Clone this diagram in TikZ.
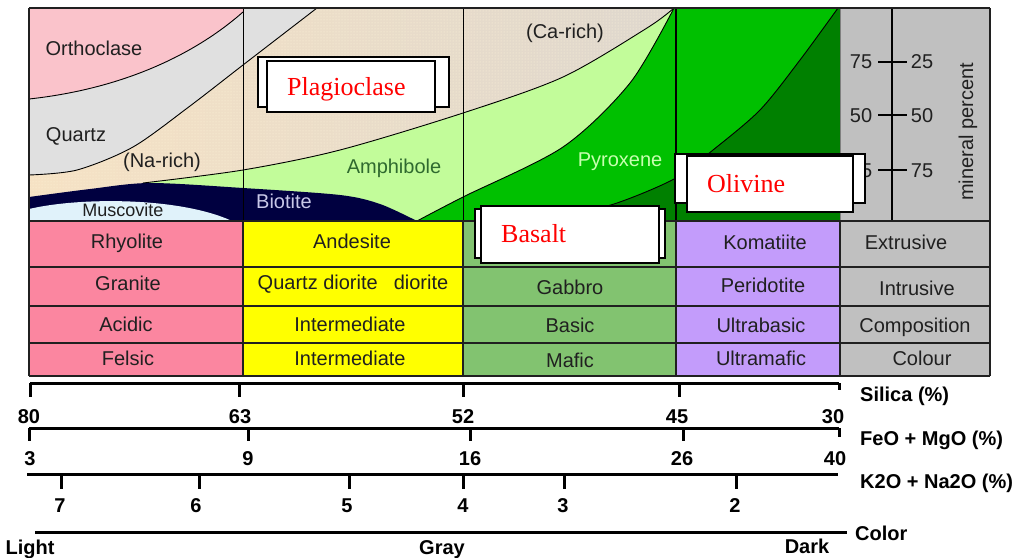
\documentclass[tikz,border=0pt]{standalone}
\usepackage{fontspec}
\setmainfont{Liberation Sans}
\newfontfamily\serifface{Liberation Serif}
\usetikzlibrary{patterns}
\definecolor{orthoc}{HTML}{FAC3CB}
\definecolor{quartzc}{HTML}{E0E0E0}
\definecolor{plagA}{HTML}{F6E2C4}
\definecolor{plagB}{HTML}{D8D4D0}
\definecolor{plagdot}{HTML}{FFF6DA}
\definecolor{amphc}{HTML}{C2FC9A}
\definecolor{pyroxc}{HTML}{00C000}
\definecolor{olivc}{HTML}{008000}
\definecolor{biotc}{HTML}{000040}
\definecolor{muscc}{HTML}{E0F2FA}
\definecolor{greyc}{HTML}{C0C0C0}
\definecolor{rowpink}{HTML}{FB86A0}
\definecolor{rowyel}{HTML}{FFFF00}
\definecolor{rowgrn}{HTML}{82C370}
\definecolor{rowlav}{HTML}{C39CFB}
\definecolor{amphtext}{HTML}{2F6A2F}
\definecolor{pyrtext}{HTML}{C8FFB0}
\definecolor{biottext}{HTML}{C8C8E8}
\definecolor{txt}{HTML}{202020}
\tikzset{
  bound/.style={draw=black, line width=0.9pt},
  colline/.style={draw=black, line width=1pt},
  gridl/.style={draw=txt, line width=1.3pt},
  lbl/.style={inner sep=0pt, text=txt, anchor=base},
  slbl/.style={inner sep=0pt, text=black, anchor=base, font=\fontsize{20}{24}\selectfont\bfseries},
  wlbl/.style={inner sep=0pt, text=black, anchor=base west, font=\fontsize{20}{24}\selectfont\bfseries},
  scl/.style={line width=3pt},
  boxline/.style={draw=black, line width=2pt, fill=white},
  redlbl/.style={inner sep=0pt, text=red, font=\serifface\fontsize{26}{30}\selectfont, anchor=base west},
}
\begin{document}
\begin{tikzpicture}[x=1pt, y=-1pt, font=\fontsize{20}{24}\selectfont]
\useasboundingbox (0,0) rectangle (1017,557);
\fill[white] (0,0) rectangle (1017,557);

% ---- mineral area background (plagioclase) ----
\shade[left color=plagA, right color=plagB] (29,8) rectangle (840,221);
\fill[pattern=dots, pattern color=plagdot] (29,8) rectangle (840,221);

% quartz
\fill[quartzc] (29,8) -- (317,8) -- plot[smooth] coordinates {(317,8) (243,65) (190,106) (133,147) (77,170) (29,175)} -- cycle;
% orthoclase
\fill[orthoc] (29,8) -- (243,8) -- (243,12) .. controls (200,50) and (130,88) .. (29,99) -- cycle;
% amphibole
\fill[amphc] plot[smooth] coordinates {(143,183) (243,170) (340,150) (463,113) (563,77) (647,28) (674,8)} -- (840,8) -- (840,221) -- (143,221) -- cycle;
% pyroxene
\fill[pyroxc] plot[smooth] coordinates {(417,221) (463,197) (563,147) (630,83) (674,8)} -- (840,8) -- (840,221) -- cycle;
% olivine
\fill[olivc] plot[smooth] coordinates {(550,221) (617,203) (676,178) (713,150) (760,110) (800,60) (838,8)} -- (840,8) -- (840,221) -- cycle;
% biotite
\fill[biotc] plot[smooth] coordinates {(29,197) (90,189) (150,183) (243,188) (340,195) (380,204) (417,221)} -- (29,221) -- cycle;
% muscovite
\fill[muscc] (29,209) .. controls (80,197) and (180,197) .. (232,221) -- (29,221) -- cycle;

% boundaries
\draw[bound] (243,12) .. controls (200,50) and (130,88) .. (29,99);
\draw[bound] plot[smooth] coordinates {(317,8) (243,65) (190,106) (133,147) (77,170) (29,175)};
\draw[bound] plot[smooth] coordinates {(143,183) (243,170) (340,150) (463,113) (563,77) (647,28) (674,8)};
\draw[bound] plot[smooth] coordinates {(417,221) (463,197) (563,147) (630,83) (674,8)};
\draw[bound] plot[smooth] coordinates {(550,221) (617,203) (676,178) (713,150) (760,110) (800,60) (838,8)};

% column lines in mineral area
\draw[colline] (243,8) -- (243,221);
\draw[colline] (463,8) -- (463,221);
\draw[colline, line width=1.6pt] (676,8) -- (676,221);

% grey mineral-percent area
\fill[greyc] (840,8) rectangle (990,221);
\draw[draw=gray, line width=1pt] (840,8) -- (840,221);
\draw[line width=1.2pt] (892,8) -- (892,223);
\foreach \yy in {62,115,170} \draw[line width=1.2pt] (878,\yy) -- (907,\yy);
\node[lbl] (pl75) at (861,68) {75};
\node[lbl] (pr25) at (922,68) {25};
\node[lbl] (pl50) at (861,122) {50};
\node[lbl] (pr50) at (922,122) {50};
\node[lbl] (pl25) at (861,177) {25};
\node[lbl] (pr75) at (922,177) {75};
\node[inner sep=0pt, text=txt, rotate=90] (minpct) at (968,132) {mineral percent};

% mineral labels
\node[lbl] (orth) at (94,55) {Orthoclase};
\node[lbl] (quartz) at (76,141) {Quartz};
\node[lbl] (narich) at (162,167) {(Na-rich)};
\node[lbl] (carich) at (565,38) {(Ca-rich)};
\node[lbl, text=amphtext] (amph) at (394,173) {Amphibole};
\node[lbl, text=pyrtext] (pyr) at (620,166) {Pyroxene};
\node[lbl, text=biottext] (biot) at (284,208) {Biotite};
\node[lbl, font=\fontsize{18}{20}\selectfont] (musc) at (123,216) {Muscovite};

% frame
\draw[gridl] (29,8) -- (990,8);
\draw[gridl] (29,8) -- (29,221);
\draw[gridl] (990,8) -- (990,221);

% ---- table ----
\foreach \xa/\xb/\c in {29/243/rowpink, 243/463/rowyel, 463/676/rowgrn, 676/840/rowlav, 840/990/greyc}
  \fill[\c] (\xa,221) rectangle (\xb,376);
\foreach \yy in {221,267,306,343,376} \draw[gridl] (29,\yy) -- (990,\yy);
\foreach \xx in {29,243,463,676,840,990} \draw[gridl] (\xx,221) -- (\xx,376);

\node[lbl] (rhy) at (127,248) {Rhyolite};
\node[lbl] (gra) at (128,290) {Granite};
\node[lbl] (aci) at (126,331) {Acidic};
\node[lbl] (fel) at (128,365) {Felsic};
\node[lbl] (and) at (352,248) {Andesite};
\node[lbl] (qd) at (353,289) {Quartz diorite\hspace{16pt}diorite};
\node[lbl] (int1) at (350,331) {Intermediate};
\node[lbl] (int2) at (350,365) {Intermediate};
\node[lbl] (gab) at (570,294) {Gabbro};
\node[lbl] (bas) at (570,332) {Basic};
\node[lbl] (maf) at (570,367) {Mafic};
\node[lbl] (kom) at (765,249) {Komatiite};
\node[lbl] (per) at (763,292) {Peridotite};
\node[lbl] (ubas) at (761,332) {Ultrabasic};
\node[lbl] (umaf) at (761,365) {Ultramafic};
\node[lbl] (ext) at (906,249) {Extrusive};
\node[lbl] (intr) at (917,295) {Intrusive};
\node[lbl] (comp) at (915,332) {Composition};
\node[lbl] (colr) at (922,365) {Colour};

% ---- label boxes ----
\draw[boxline] (258,57) rectangle (449,107);
\draw[boxline] (267,61) rectangle (435,112);
\node[redlbl] (plag) at (287,95) {Plagioclase};
\draw[boxline] (675,154) rectangle (865,203);
\draw[boxline] (687,156) rectangle (853,212);
\node[redlbl] (oliv) at (707,192) {Olivine};
\draw[boxline] (475,209) rectangle (665,258);
\draw[boxline] (481,206) rectangle (659,263);
\node[redlbl] (basalt) at (501,242) {Basalt};

% ---- scales ----
\draw[scl] (30,383) -- (839,383);
\foreach \x in {30,239,463,679} \draw[scl] (\x,383) -- (\x,397);
\draw[scl] (839,383) -- (839,390);
\node[slbl] (s80) at (29,423) {80};
\node[slbl] (s63) at (240,423) {63};
\node[slbl] (s52) at (463,423) {52};
\node[slbl] (s45) at (677,423) {45};
\node[slbl] (s30) at (833,423) {30};
\node[wlbl] (silica) at (860,401) {Silica (\%)};

\draw[scl] (29,428) -- (839,428);
\foreach \x in {29,248,470,683} \draw[scl] (\x,428) -- (\x,441);
\draw[scl] (839,428) -- (839,437);
\node[slbl] (f3) at (30,465) {3};
\node[slbl] (f9) at (248,465) {9};
\node[slbl] (f16) at (470,465) {16};
\node[slbl] (f26) at (682,465) {26};
\node[slbl] (f40) at (835,465) {40};
\node[wlbl] (feo) at (860,445) {FeO + MgO (\%)};

\draw[scl] (27,474) -- (838,474);
\foreach \x in {61,199,349,463,564,736} \draw[scl] (\x,474) -- (\x,489);
\node[slbl] (k7) at (60,512) {7};
\node[slbl] (k6) at (196,512) {6};
\node[slbl] (k5) at (347,512) {5};
\node[slbl] (k4) at (463,512) {4};
\node[slbl] (k3) at (563,512) {3};
\node[slbl] (k2) at (735,512) {2};
\node[wlbl] (k2o) at (860,488) {K2O + Na2O (\%)};

\draw[scl] (35,532) -- (847,532);
\node[slbl] (light) at (30,554) {Light};
\node[slbl] (gray) at (442,554) {Gray};
\node[slbl] (dark) at (807,553) {Dark};
\node[wlbl] (color) at (855,540) {Color};
\end{tikzpicture}
\end{document}
